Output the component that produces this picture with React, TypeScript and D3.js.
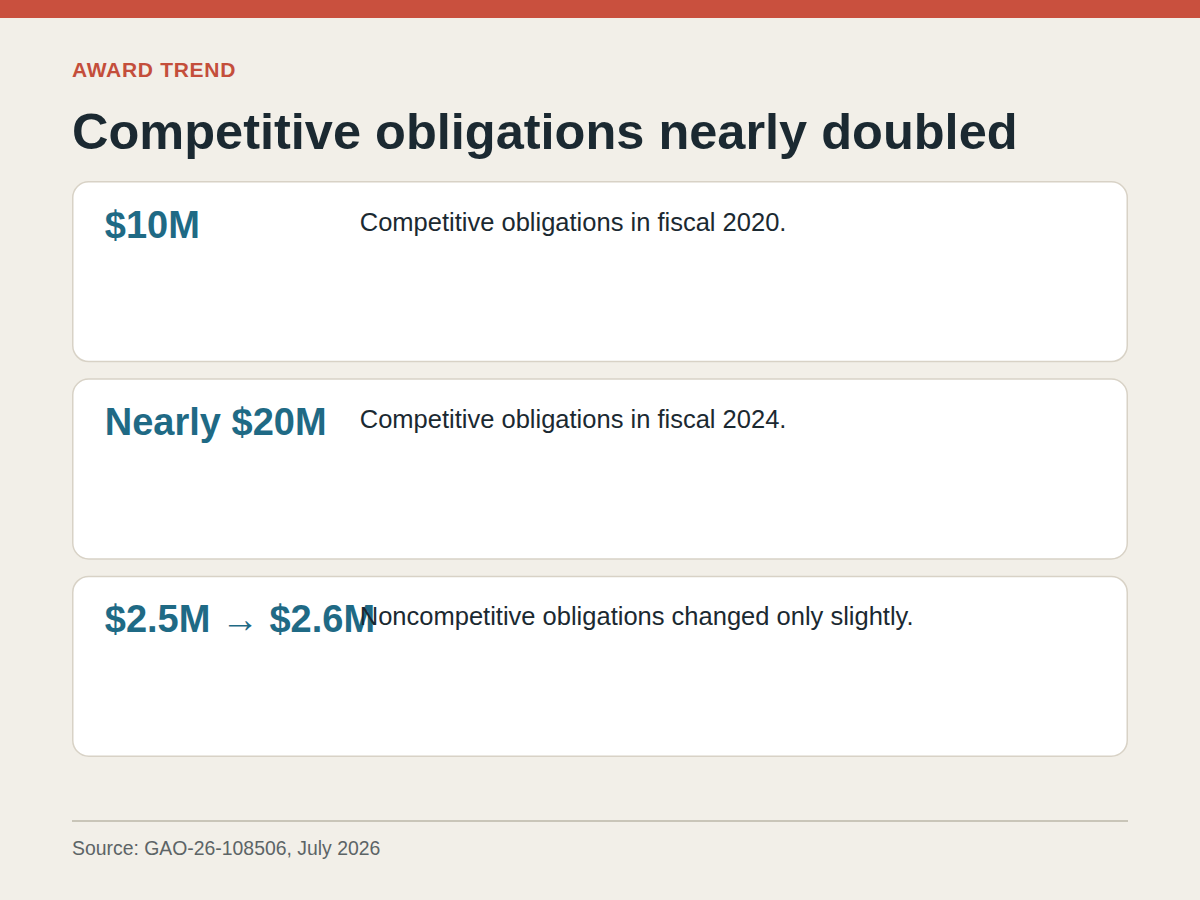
import { useEffect, useRef } from 'react';
import * as d3 from 'd3';

const kicker = 'AWARD TREND';
const title = 'Competitive obligations nearly doubled';
const figures = [ '$10M', 'Nearly $20M', '$2.5M \u2192 $2.6M' ];
const notes = [
  'Competitive obligations in fiscal 2020.',
  'Competitive obligations in fiscal 2024.',
  'Noncompetitive obligations changed only slightly.',
];
const source = 'Source: GAO-26-108506, July 2026';

export default function App() {
  const svgRef = useRef<SVGSVGElement>( null );

  useEffect( () => {
    if ( !svgRef.current ) return;
    const width = 1200;
    const height = 900;
    const left = 72;
    const right = 1128;

    const svg = d3.select( svgRef.current );
    svg.selectAll( '*' ).remove();
    svg.attr( 'width', width ).attr( 'height', height )
      .style( 'font-family', '"Liberation Sans", Arial, sans-serif' );

    svg.append( 'rect' ).attr( 'width', width ).attr( 'height', height ).attr( 'fill', '#f2efe8' );
    svg.append( 'rect' ).attr( 'width', width ).attr( 'height', 18 ).attr( 'fill', '#c9503e' );

    svg.append( 'text' )
      .attr( 'x', left ).attr( 'y', 77 )
      .attr( 'fill', '#c44e3b' )
      .style( 'font-size', '21px' ).style( 'font-weight', 'bold' )
      .style( 'letter-spacing', '0.7px' )
      .text( kicker );

    svg.append( 'text' )
      .attr( 'x', left ).attr( 'y', 149 )
      .attr( 'fill', '#1b2931' )
      .style( 'font-size', '50.5px' ).style( 'font-weight', 'bold' )
      .text( title );

    // card rows
    const y = d3.scaleBand<number>()
      .domain( d3.range( figures.length ) )
      .range( [ 181, 757 ] )
      .paddingInner( 16 / 197 );

    const cards = svg.selectAll( 'g.card' )
      .data( figures.map( ( f, i ) => ( { figure: f, note: notes[ i ], i } ) ) )
      .join( 'g' )
      .attr( 'class', 'card' )
      .attr( 'transform', d => `translate(${ left + 0.75 },${ ( y( d.i ) as number ) + 0.75 })` );

    cards.append( 'rect' )
      .attr( 'width', right - left - 1.5 )
      .attr( 'height', y.bandwidth() - 1.5 )
      .attr( 'rx', 16 )
      .attr( 'fill', '#ffffff' )
      .attr( 'stroke', '#d8d2c6' )
      .attr( 'stroke-width', 1.5 );

    cards.append( 'text' )
      .attr( 'x', 32 ).attr( 'y', 56 )
      .attr( 'fill', '#1f6a85' )
      .style( 'font-size', '38px' ).style( 'font-weight', 'bold' )
      .text( d => d.figure );

    cards.append( 'text' )
      .attr( 'x', 287 ).attr( 'y', 49 )
      .attr( 'fill', '#1b2931' )
      .style( 'font-size', '25.5px' )
      .text( d => d.note );

    svg.append( 'line' )
      .attr( 'x1', left ).attr( 'x2', right )
      .attr( 'y1', 821 ).attr( 'y2', 821 )
      .attr( 'stroke', '#c9c5b8' ).attr( 'stroke-width', 2 );

    svg.append( 'text' )
      .attr( 'x', left ).attr( 'y', 855 )
      .attr( 'fill', '#5c6466' )
      .style( 'font-size', '19.4px' )
      .text( source );
  }, [] );

  return (
    <svg ref={ svgRef } style={ { position: 'absolute', left: 0, top: 0, display: 'block' } } />
  );
}
